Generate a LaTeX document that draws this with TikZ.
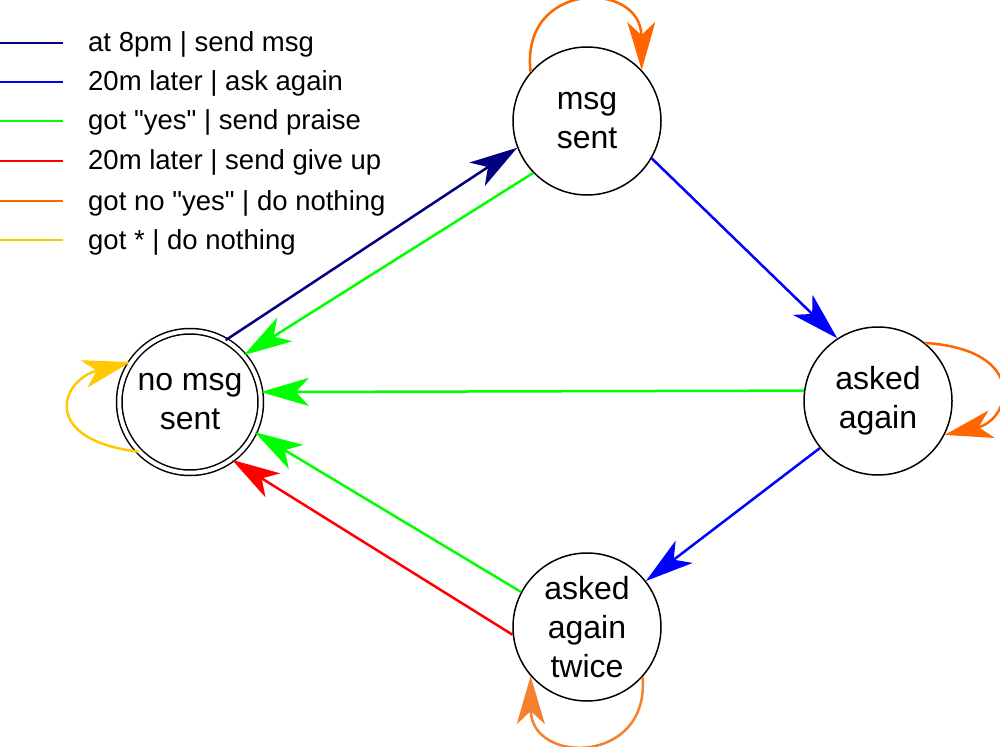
\documentclass[tikz,border=0pt]{standalone}
\usepackage{fontspec}
\setmainfont{Liberation Sans}[Ligatures=TeXOff]
\usetikzlibrary{arrows.meta}
\definecolor{cnavy}{RGB}{0,0,128}
\definecolor{cblue}{RGB}{0,0,255}
\definecolor{cgreen}{RGB}{0,255,0}
\definecolor{cred}{RGB}{255,0,0}
\definecolor{corange}{RGB}{255,102,0}
\definecolor{corange2}{RGB}{245,128,45}
\definecolor{cyellow}{RGB}{255,200,0}
\tikzset{
  state/.style={circle, draw=black, line width=1.5pt, minimum size=148pt, inner sep=0pt,
    align=center, font=\fontsize{32}{39}\selectfont},
  startstate/.style={state, double, double distance=4pt, minimum size=141.5pt},
  edge/.style={line width=2.5pt, -{Stealth[length=48pt, width=28pt, inset=13pt]}},
  legline/.style={line width=2.5pt},
  legtext/.style={anchor=base west, inner sep=0pt, font=\fontsize{27.5}{33}\selectfont}
}
\begin{document}
\begin{tikzpicture}[x=1pt, y=-1pt]
\useasboundingbox (0,0) rectangle (1000,746);
% legend
\foreach \y/\c/\t/\n in {43/cnavy/{at 8pm | send msg}/1,
                         82/cblue/{20m later | ask again}/2,
                         121/cgreen/{got "yes" | send praise}/3,
                         161/cred/{20m later | send give up}/4,
                         201/corange/{got no "yes" | do nothing}/5,
                         240/cyellow/{got * | do nothing}/6} {
  \coordinate (l\n a) at (0,\y);
  \coordinate (l\n b) at (63,\y);
  \draw[legline, \c] (l\n a) -- (l\n b);
  \node[legtext] (lt\n) at (88,\y+9) {\t};
}
% states
\node[startstate] (A) at (190,402) {no msg\\sent};
\node[state] (B) at (587,121) {msg\\sent};
\node[state] (C) at (878,401) {asked\\again};
\node[state] (D) at (587,627) {asked\\again\\twice};
% edges
\draw[edge, cnavy] (A.60) -- (B.201);
\draw[edge, cgreen] (B.224) -- (A.41);
\draw[edge, cblue] (B.-30) -- (C.123);
\draw[edge, cgreen] (C.172) -- (A.8);
\draw[edge, cblue] (C.219) -- (D.38);
\draw[edge, cgreen] (D.152) -- (A.-25);
\draw[edge, cred] (D.186) -- (A.-54);
% loops
\draw[edge, corange] (B.139) .. controls (520,-20) and (641,-20) .. (B.43);
\draw[edge, corange] (C.51) .. controls (1030,350) and (1010,420) .. (C.-27);
\draw[edge, corange2] (D.-42) .. controls (650,765) and (531,765) .. (D.-139);
\draw[edge, cyellow] (A.224) .. controls (40,440) and (60,380) .. (A.146);
\end{tikzpicture}
\end{document}
